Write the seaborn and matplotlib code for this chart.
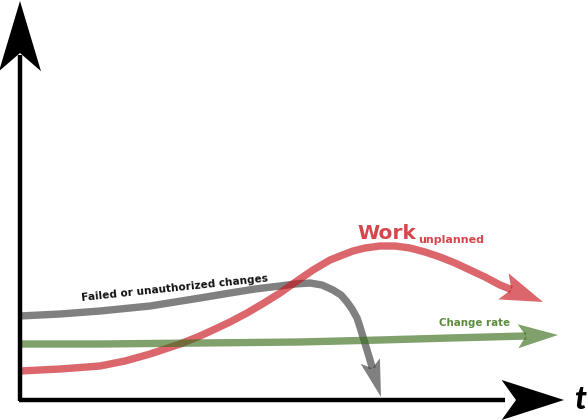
import numpy as np
import pandas as pd
import seaborn as sns
import matplotlib.pyplot as plt
from matplotlib.patches import Polygon

# schematic: values in picture units (x right, y down), last point is the arrow tip
t_failed = [20, 60, 100, 150, 200, 230, 255, 280, 295, 310, 322, 333, 341, 347, 352, 357, 360,
            364, 367, 370, 381]
y_failed = [316, 314, 311, 306, 298, 293, 289, 286, 284, 283, 285, 290, 295, 302, 309, 318, 327,
            340, 350, 360, 397]

t_work = [20, 60, 100, 125, 150, 180, 200, 213, 230, 247, 264, 280, 297, 313, 330, 340, 353, 365,
          380, 395, 410, 425, 440, 455, 470, 485, 500, 543]
y_work = [371, 369, 366, 361, 354, 344, 336, 330, 322, 313, 303, 293, 281, 270, 260, 256, 251, 248,
          246, 246, 248, 252, 257, 263, 270, 277, 285, 302]

t_rate = [20, 100, 200, 300, 380, 450, 525, 558]
y_rate = [344, 344, 343, 342, 340, 338, 336, 335]

series_names = ['Failed or unauthorized changes', 'Work unplanned', 'Change rate']
colors = ['#3c3c3c', '#c8141c', '#3c6e1e']
head_len = [30, 34, 32]
head_w = [20, 28, 24]

sns.set_theme(style='white')
plt.rcParams['font.family'] = ['DejaVu Sans']

fig = plt.figure(figsize=(5.88, 4.2), dpi=100)
ax = fig.add_axes([0, 0, 1, 1])
ax.axis('off')


def split_head(xs, ys, L):
    # line stops at the base of the arrow head
    tip = np.array([xs[-1], ys[-1]], float)
    prev = np.array([xs[-2], ys[-2]], float)
    d = (tip - prev) / np.linalg.norm(tip - prev)
    base = tip - L * d
    return list(xs[:-1]) + [base[0]], list(ys[:-1]) + [base[1]], tip, d


def draw_head(tip, d, L, W, color, alpha, notch=0.25):
    n = np.array([-d[1], d[0]])
    base = tip - L * d
    back = base - notch * L * d
    pts = [tip, back + W / 2 * n, base, back - W / 2 * n]
    ax.add_patch(Polygon(pts, closed=True, facecolor=color, edgecolor='none', alpha=alpha))


rows = []
heads = []
for name, xs, ys, L in zip(series_names, [t_failed, t_work, t_rate], [y_failed, y_work, y_rate], head_len):
    lx, ly, tip, d = split_head(xs, ys, L)
    heads.append((tip, d))
    for a, b in zip(lx, ly):
        rows.append({'series': name, 't': a, 'y': b})
df = pd.DataFrame(rows)

sns.lineplot(data=df, x='t', y='y', hue='series', palette=dict(zip(series_names, colors)),
             sort=False, estimator=None, lw=5.3, alpha=0.65, legend=False, ax=ax,
             solid_capstyle='butt', solid_joinstyle='round')
ax.set_ylim(420, 0)
ax.set_xlim(0, 588)

for (tip, d), c, L, W in zip(heads, colors, head_len, head_w):
    draw_head(tip, d, L, W, c, 0.65)

# axes arrows
ax.plot([20, 20], [401, 55], color='black', lw=3.2, solid_capstyle='butt')
ax.plot([19, 505], [400, 400], color='black', lw=3.2, solid_capstyle='butt')
draw_head(np.array([20., 1.]), np.array([0., -1.]), 52, 42, 'black', 1.0, notch=0.35)
draw_head(np.array([564., 400.]), np.array([1., 0.]), 48, 40, 'black', 1.0, notch=0.3)

ax.text(574, 409, 't', fontsize=23, fontweight='black', fontstyle='italic',
        ha='left', va='baseline', color='black', family=['Lato', 'DejaVu Sans'])

ax.text(82, 301, series_names[0], fontsize=7.6, fontweight='bold', rotation=6,
        rotation_mode='anchor', ha='left', va='baseline', color='#111111')
ax.text(357, 239, 'Work', fontsize=14.5, fontweight='bold', ha='left', va='baseline',
        color='#d6474d')
ax.text(418, 243, 'unplanned', fontsize=8, fontweight='bold', ha='left', va='baseline',
        color='#d6474d')
ax.text(439, 326, series_names[2], fontsize=7.4, fontweight='bold', ha='left', va='baseline',
        color='#5e8c3e')

fig.savefig('out.png', dpi=100)
